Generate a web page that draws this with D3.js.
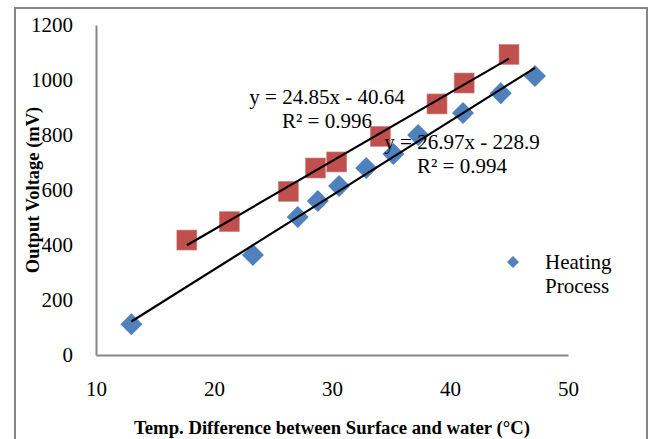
<!DOCTYPE html>
<html>
<head>
<meta charset="utf-8">
<script src="https://cdn.jsdelivr.net/npm/d3@7"></script>
<style>
  body { margin: 0; background: #fff; }
  svg text { font-family: "Liberation Serif", "Times New Roman", serif; fill: #000; }
  .axis path { stroke: #868686; stroke-width: 2px; }
  .axis line { display: none; }
</style>
</head>
<body>
<svg id="chart" width="653" height="439"></svg>
<script>
// heating process (blue diamonds)
var heatX = [13, 23.3, 27.1, 28.8, 30.6, 32.9, 35.2, 37.3, 41.1, 44.3, 47.2];
var heatY = [112, 364, 502, 560, 615, 680, 731, 800, 880, 952, 1015];
// second series (red squares, no legend entry)
var redX = [17.7, 21.3, 26.3, 28.6, 30.4, 34.1, 38.9, 41.2, 45.0];
var redY = [418, 485, 595, 680, 702, 795, 913, 989, 1093];

var redFit = {slope: 24.85, icept: -40.64, eq: "y = 24.85x - 40.64", r2: "R² = 0.996"};
var heatFit = {slope: 26.97, icept: -228.9, eq: "y = 26.97x - 228.9", r2: "R² = 0.994"};

var xTicks = [10, 20, 30, 40, 50];
var yTicks = [0, 200, 400, 600, 800, 1000, 1200];

var svg = d3.select("#chart");

// outer frame
svg.append("rect")
   .attr("x", 15).attr("y", 8)
   .attr("width", 632).attr("height", 440)
   .attr("fill", "none").attr("stroke", "#868686").attr("stroke-width", 2);

var x = d3.scaleLinear().domain([10, 50]).range([96, 568]);
var y = d3.scaleLinear().domain([0, 1200]).range([355, 25]);

svg.append("g").attr("class", "axis")
   .attr("transform", "translate(96,0)")
   .call(d3.axisLeft(y).tickValues(yTicks).tickFormat(d3.format("d"))
           .tickSize(0).tickPadding(23).tickSizeOuter(0))
   .selectAll("text").style("font-size", "21px");

svg.append("g").attr("class", "axis")
   .attr("transform", "translate(0,355)")
   .call(d3.axisBottom(x).tickValues(xTicks).tickFormat(d3.format("d"))
           .tickSize(0).tickPadding(26).tickSizeOuter(0))
   .selectAll("text").style("font-size", "21px");

svg.selectAll("text").attr("font-family", null);

// axis titles
svg.append("text")
   .attr("x", 332).attr("y", 434)
   .attr("text-anchor", "middle")
   .style("font-size", "18.7px").style("font-weight", "bold")
   .text("Temp. Difference between Surface and water (°C)");

svg.append("text")
   .attr("transform", "translate(39,190) rotate(-90)")
   .attr("text-anchor", "middle")
   .style("font-size", "18.5px").style("font-weight", "bold")
   .text("Output Voltage (mV)");

// red squares
var redPts = redX.map(function(d, i) { return [d, redY[i]]; });
svg.selectAll(".sq").data(redPts).enter().append("rect")
   .attr("x", function(d) { return x(d[0]) - 10; })
   .attr("y", function(d) { return y(d[1]) - 10; })
   .attr("width", 20).attr("height", 20)
   .attr("fill", "#C0504D").attr("stroke", "#D08583").attr("stroke-width", 0.6);

// blue diamonds
var heatPts = heatX.map(function(d, i) { return [d, heatY[i]]; });
var diamond = "M0,-11L11,0L0,11L-11,0Z";
svg.selectAll(".dm").data(heatPts).enter().append("path")
   .attr("d", diamond)
   .attr("transform", function(d) { return "translate(" + x(d[0]) + "," + y(d[1]) + ")"; })
   .attr("fill", "#4F81BD");

// trend lines over each series' range
function trend(fit, xs) {
  var x0 = d3.min(xs), x1 = d3.max(xs);
  svg.append("line")
     .attr("x1", x(x0)).attr("y1", y(fit.slope * x0 + fit.icept))
     .attr("x2", x(x1)).attr("y2", y(fit.slope * x1 + fit.icept))
     .attr("stroke", "#000").attr("stroke-width", 2.2);
}
trend(redFit, redX);
trend(heatFit, heatX);

function label(fit, cx, cy) {
  svg.append("text").attr("x", cx).attr("y", cy + 7)
     .attr("text-anchor", "middle").style("font-size", "21px").text(fit.eq);
  svg.append("text").attr("x", cx).attr("y", cy + 31)
     .attr("text-anchor", "middle").style("font-size", "21px").text(fit.r2);
}
label(redFit, 327, 97);
label(heatFit, 462, 142);

// legend
var lg = svg.append("g").attr("transform", "translate(513,262)");
lg.append("path").attr("d", "M0,-6L6,0L0,6L-6,0Z").attr("fill", "#4F81BD");
lg.append("text").attr("x", 32).attr("y", 7).style("font-size", "21px").text("Heating");
lg.append("text").attr("x", 32).attr("y", 31).style("font-size", "21px").text("Process");
</script>
</body>
</html>
